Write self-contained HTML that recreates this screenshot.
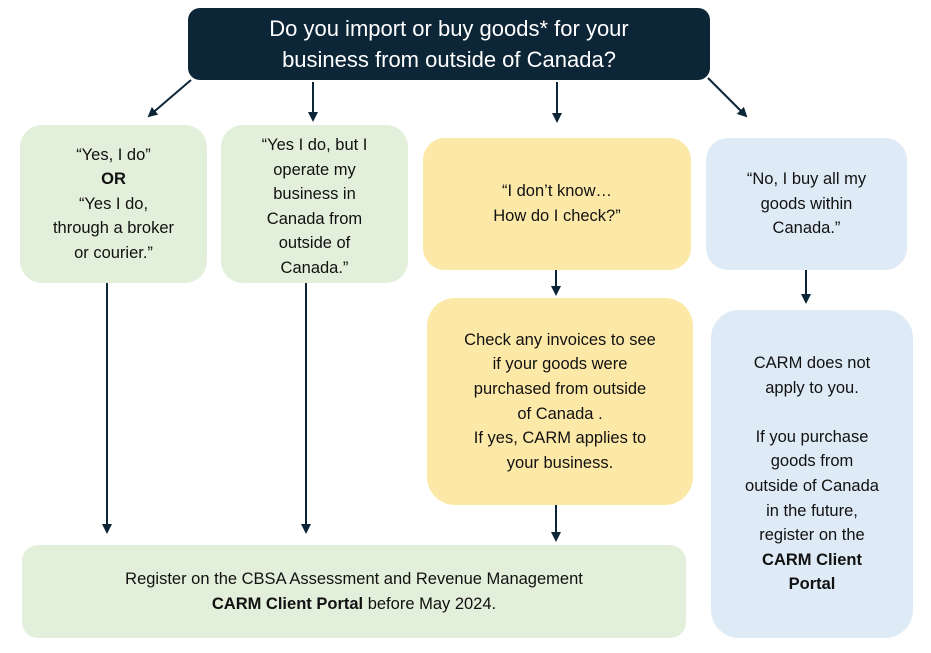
<!DOCTYPE html>
<html><head><meta charset="utf-8"><style>
body{margin:0;width:931px;height:653px;background:#fff;position:relative;font-family:"Liberation Sans",sans-serif;overflow:hidden}
.b{position:absolute;border-radius:22px;display:flex;align-items:center;justify-content:center;text-align:center;font-size:16.5px;line-height:24.6px;color:#111}
.b>div{width:100%}
.g{background:#e2efda}.y{background:#fde9a7}.l{background:#deebf6}
svg{position:absolute;left:0;top:0}
</style></head><body>
<div class="b" style="left:188px;top:8px;width:522px;height:72px;background:#0c2537;color:#fff;font-size:22px;line-height:31px;border-radius:12px"><div>Do you import or buy goods* for your<br>business from outside of Canada?</div></div>
<div class="b g" style="left:20px;top:125px;width:187px;height:158px"><div>“Yes, I do”<br><b>OR</b><br>“Yes I do,<br>through a broker<br>or courier.”</div></div>
<div class="b g" style="left:221px;top:125px;width:187px;height:150px;padding-top:8px;align-items:flex-start"><div>“Yes I do, but I<br>operate my<br>business in<br>Canada from<br>outside of<br>Canada.”</div></div>
<div class="b y" style="left:423px;top:138px;width:268px;height:132px"><div>“I don’t know…<br>How do I check?”</div></div>
<div class="b l" style="left:706px;top:138px;width:201px;height:132px"><div>“No, I buy all my<br>goods within<br>Canada.”</div></div>
<div class="b y" style="left:427px;top:298px;width:266px;height:207px;border-radius:28px"><div>Check any invoices to see<br>if your goods were<br>purchased from outside<br>of Canada .<br>If yes, CARM applies to<br>your business.</div></div>
<div class="b l" style="left:711px;top:310px;width:202px;height:328px;border-radius:28px"><div>CARM does not<br>apply to you.<br><br>If you purchase<br>goods from<br>outside of Canada<br>in the future,<br>register on the<br><b>CARM Client<br>Portal</b></div></div>
<div class="b g" style="left:22px;top:545px;width:664px;height:93px;border-radius:16px"><div>Register on the CBSA Assessment and Revenue Management<br><b>CARM Client Portal</b> before May 2024.</div></div>
<svg width="931" height="653"><defs><marker id="a" markerWidth="10" markerHeight="10" refX="8" refY="5" orient="auto" markerUnits="userSpaceOnUse"><path d="M0,0L10,5L0,10z" fill="#0c2537"/></marker></defs>
<g stroke="#0c2537" stroke-width="2" marker-end="url(#a)">
<line x1="191" y1="80" x2="149" y2="116"/>
<line x1="313" y1="82" x2="313" y2="120"/>
<line x1="557" y1="82" x2="557" y2="121"/>
<line x1="708" y1="78" x2="746" y2="116"/>
<line x1="107" y1="283" x2="107" y2="532"/>
<line x1="306" y1="283" x2="306" y2="532"/>
<line x1="556" y1="270" x2="556" y2="294"/>
<line x1="806" y1="270" x2="806" y2="302"/>
<line x1="556" y1="505" x2="556" y2="540"/>
</g></svg>
</body></html>
